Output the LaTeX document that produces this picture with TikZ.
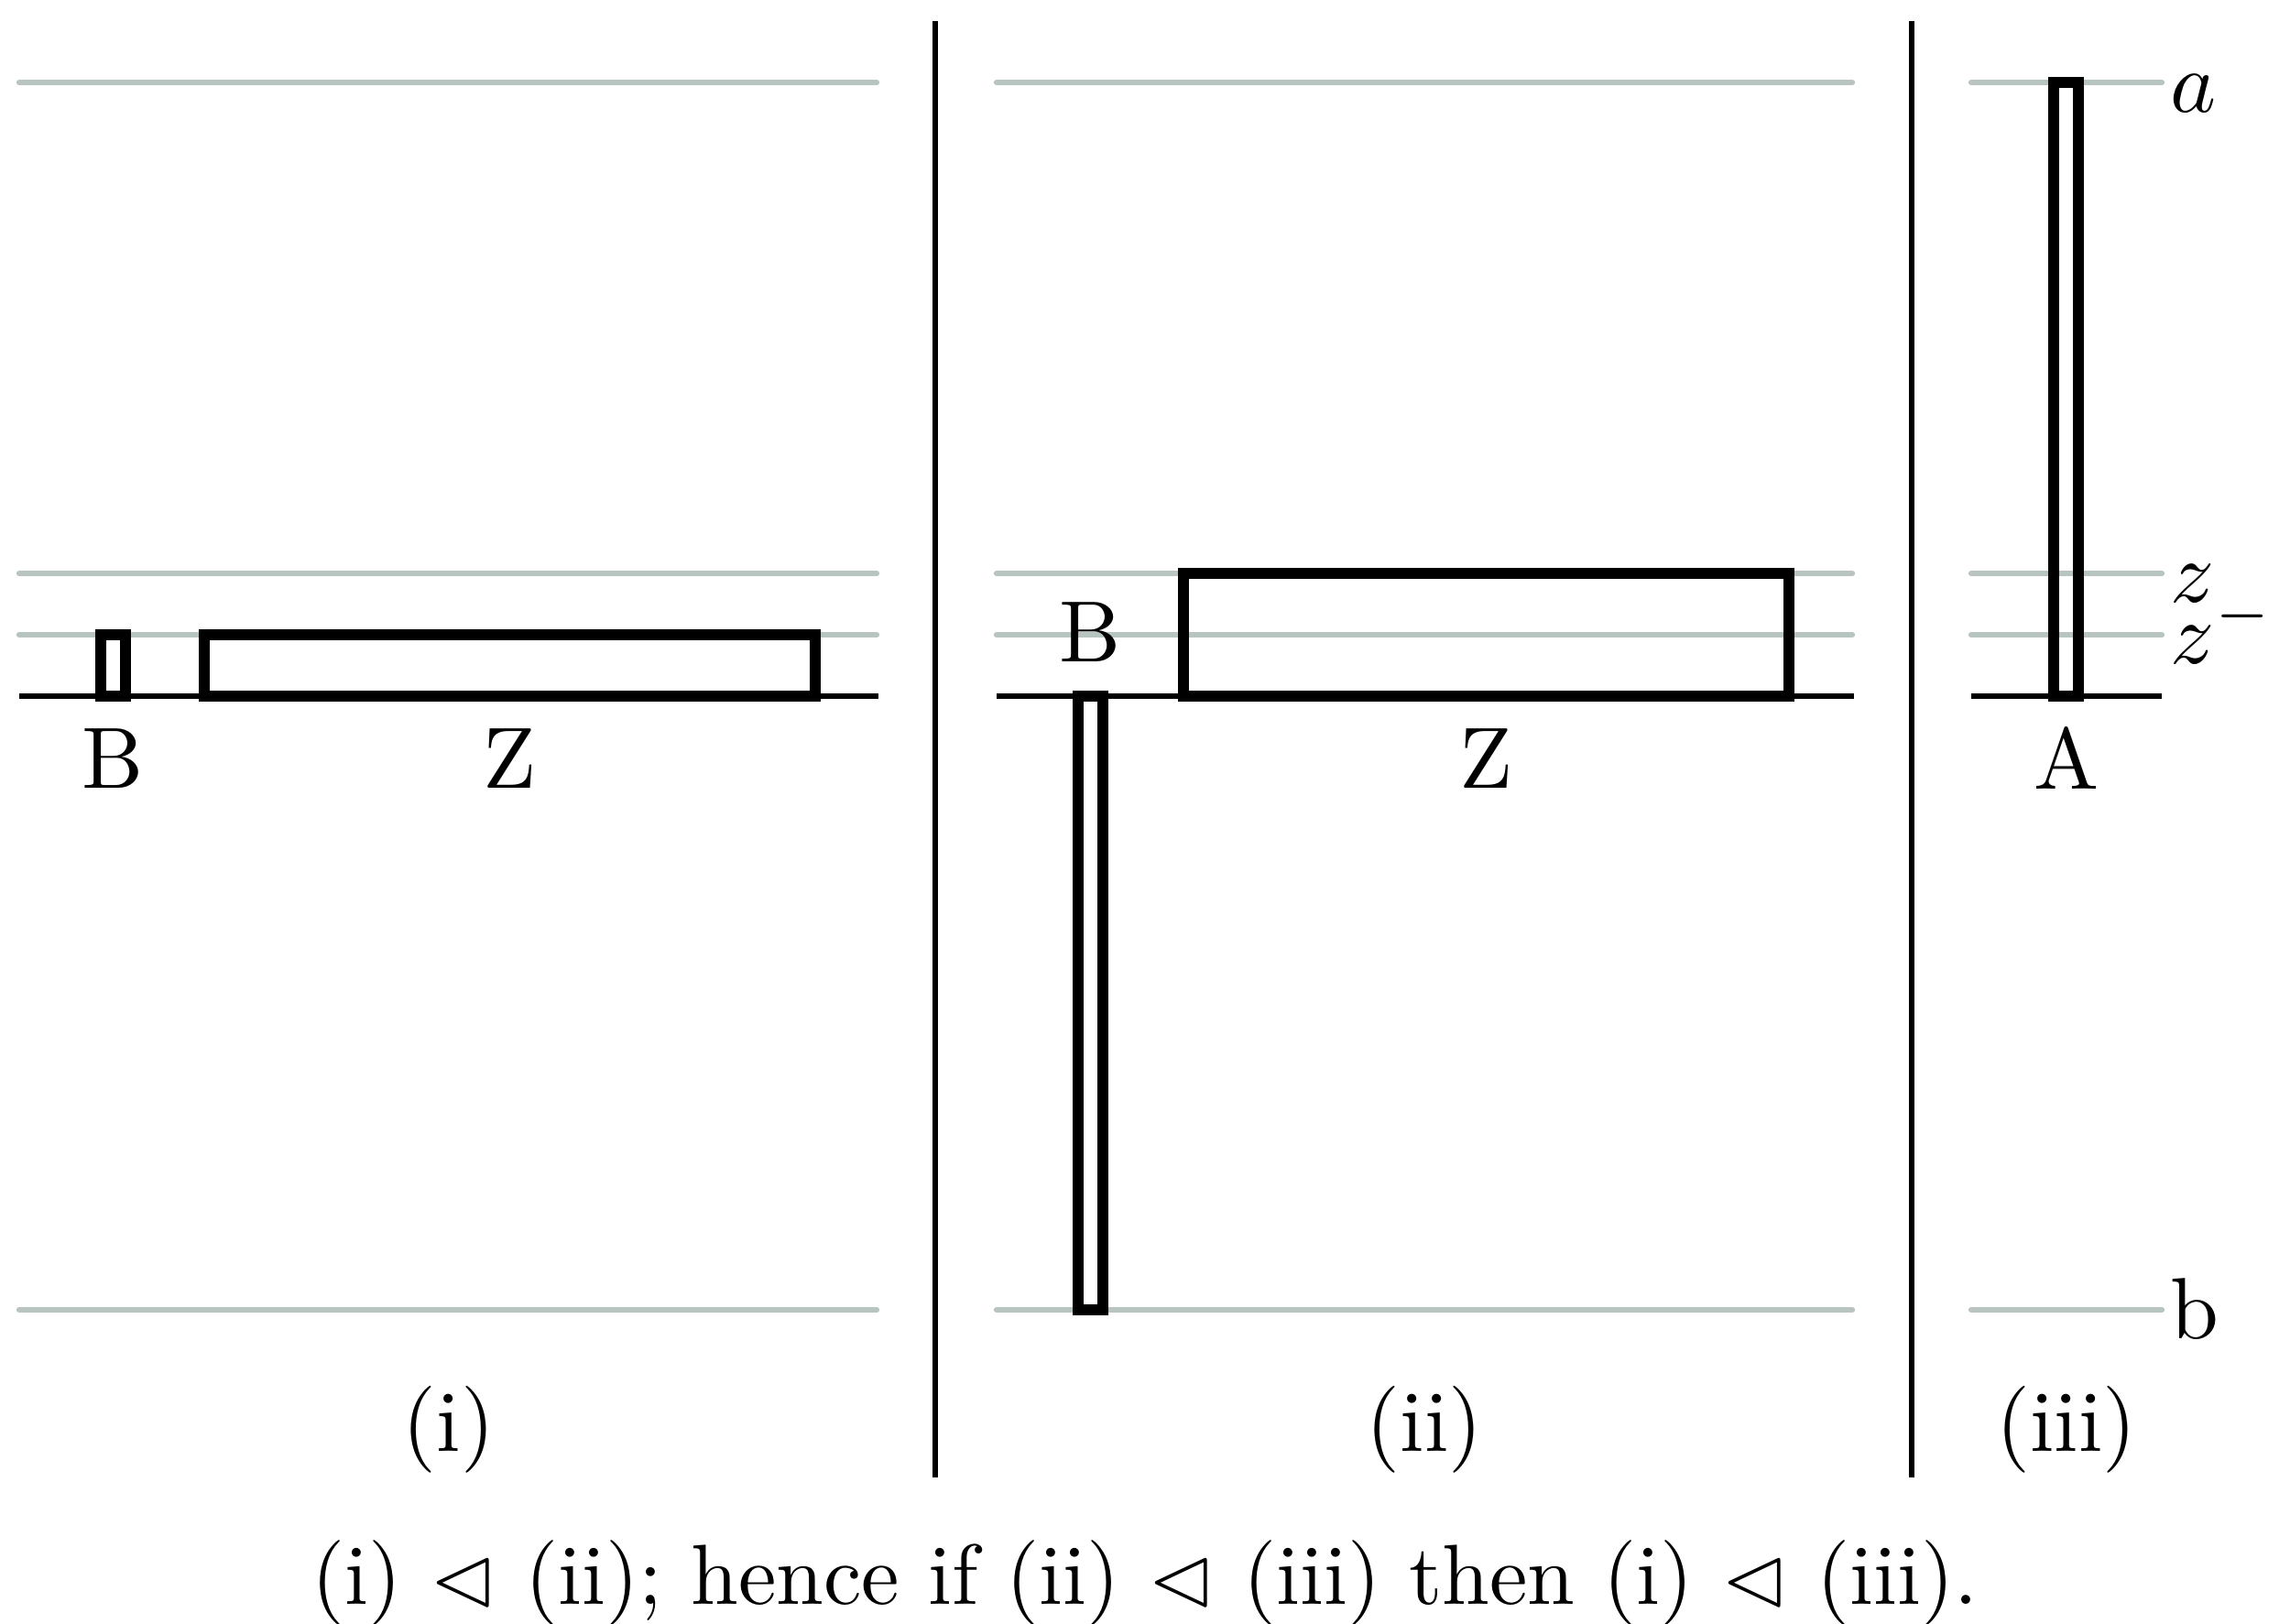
\documentclass[tikz,border=0pt]{standalone}
\usepackage{amssymb}

\definecolor{guidegray}{RGB}{184,196,192}
\tikzset{
  guide/.style={draw=guidegray, line width=1.8pt, line cap=round},
  baseline/.style={draw=black, line width=1.8pt},
  bar/.style={draw=black, line width=3.2pt},
  lbl/.style={font=\normalsize, scale=2.7, inner sep=0pt},
  lvl/.style={lbl, anchor=base west},
}

\begin{document}
\begin{tikzpicture}
    \useasboundingbox (0,0) rectangle (25,-17.72);

    % Separators
    \foreach \x in {10.21, 20.87} {
        \draw[line width=1.8pt] (\x,-0.23) -- (\x,-16.13);
      }

    % Panel (i)
    \begin{scope}
      \foreach \y in {0.90, 6.26, 6.93, 14.30} {
          \draw[guide] (0.21,-\y) -- (9.57,-\y); % Levels
        }
      \draw[baseline] (0.21,-7.60) -- (9.59,-7.60); % Base
      \draw[bar] (1.10,-6.93) rectangle (1.37,-7.60);
      \draw[bar] (2.23,-6.93) rectangle (8.90,-7.60);
      \node[lbl] (Bi) at (1.23,-8.28) {B};
      \node[lbl] (Zi) at (5.56,-8.28) {Z};
      \node[lbl] (capi) at (4.90,-15.61) {(i)};
    \end{scope}

    % Panel (ii)
    \begin{scope}
      \foreach \y in {0.90, 6.26, 6.93, 14.30} {
          \draw[guide] (10.88,-\y) -- (20.22,-\y);
        }
      \draw[baseline] (10.88,-7.60) -- (20.24,-7.60);
      \draw[bar] (11.77,-7.60) rectangle (12.04,-14.30);
      \draw[bar] (12.92,-6.26) rectangle (19.53,-7.60);
      \node[lbl] (Bii) at (11.90,-6.90) {B};
      \node[lbl] (Zii) at (16.22,-8.28) {Z};
      \node[lbl] (capii) at (15.55,-15.61) {(ii)};
    \end{scope}

    % Panel (iii)
    \begin{scope}
      \foreach \y in {0.90, 6.26, 6.93, 14.30} {
          \draw[guide] (21.52,-\y) -- (23.60,-\y);
        }
      \draw[baseline] (21.52,-7.60) -- (23.60,-7.60);
      \draw[bar] (22.42,-0.90) rectangle (22.69,-7.60);
      \node[lbl] (Aiii) at (22.56,-8.28) {A};
      \node[lbl] (capiii) at (22.56,-15.61) {(iii)};
    \end{scope}

    % Level labels
    \foreach \y/\name/\label in {1.22/la/$a$, 6.57/lz/$z$, 7.24/lzm/$z^-$, 14.61/lb/b} {
        \node[lvl] (\name) at (23.68,-\y) {\label};
      }

    % Caption
    \node[lbl, scale=2.65/2.7] (caption) at (12.50,-17.28)
      {(i) $\lhd$ (ii); hence if (ii) $\lhd$ (iii) then (i) $\lhd$ (iii).};
  \end{tikzpicture}
\end{document}
